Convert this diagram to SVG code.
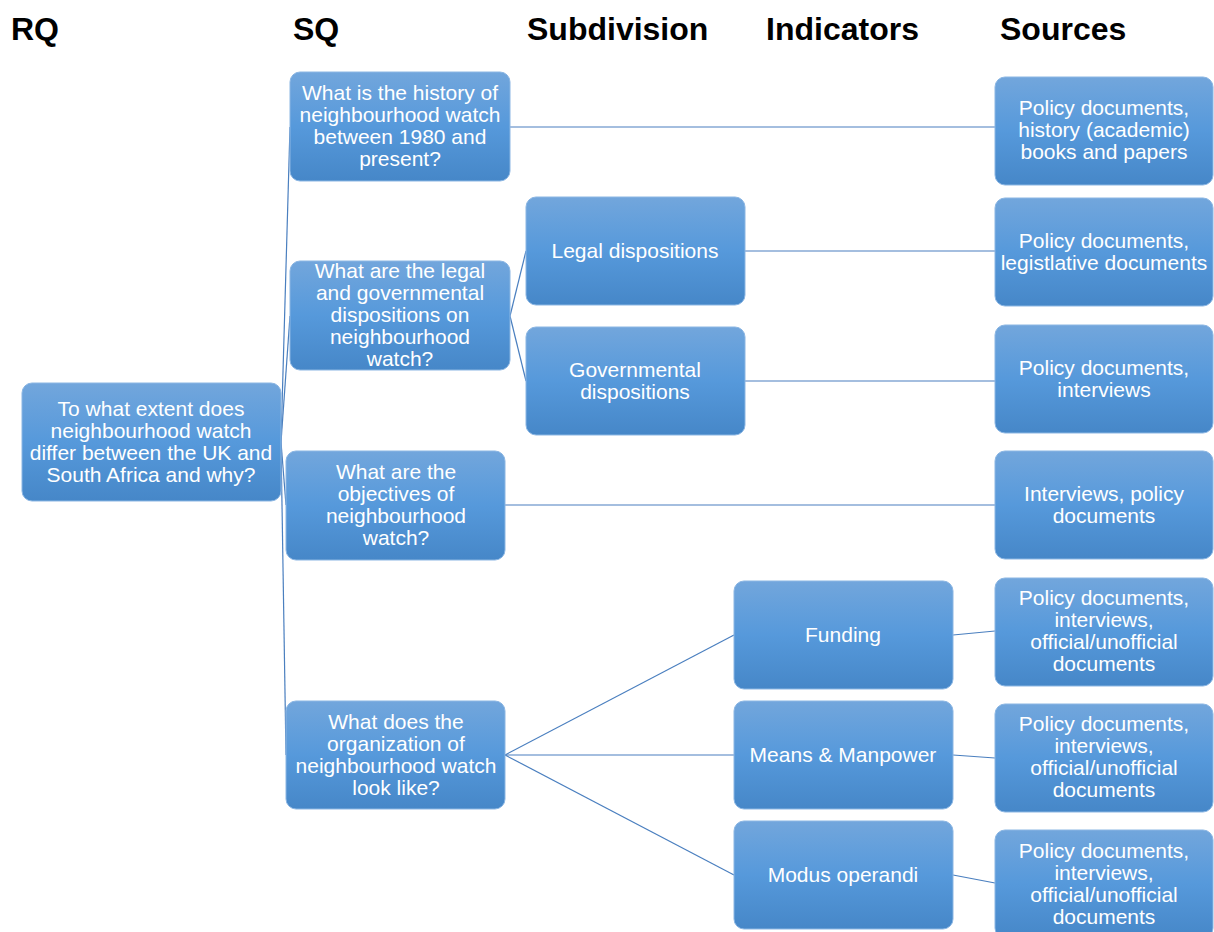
<svg xmlns="http://www.w3.org/2000/svg" width="1214" height="932" viewBox="0 0 1214 932">
<defs>
<linearGradient id="g" x1="0" y1="0" x2="0" y2="1">
<stop offset="0" stop-color="#72a6dc"/>
<stop offset="0.5" stop-color="#5699db"/>
<stop offset="1" stop-color="#4687c8"/>
</linearGradient>
<style>
.b{fill:url(#g);stroke:#8bb6e3;stroke-width:1}
.t{font-family:"Liberation Sans",Arial,sans-serif;font-size:21px;fill:#fff;text-anchor:middle}
.h{font-family:"Liberation Sans",Arial,sans-serif;font-size:32px;font-weight:bold;fill:#000}
.c line{stroke:#4a7fbf;stroke-width:1.2}
</style>
</defs>
<rect width="1214" height="932" fill="#fff"/>
<g id="headers">
<text class="h" x="11" y="40">RQ</text>
<text class="h" x="293" y="40">SQ</text>
<text class="h" x="527" y="40">Subdivision</text>
<text class="h" x="766" y="40">Indicators</text>
<text class="h" x="1000" y="40">Sources</text>
</g>
<g class="c" id="connectors">
<line x1="281" y1="442" x2="290" y2="127"/>
<line x1="281" y1="442" x2="290" y2="316"/>
<line x1="281" y1="442" x2="286" y2="505"/>
<line x1="281" y1="442" x2="286" y2="755"/>
<line x1="510" y1="127" x2="995" y2="127"/>
<line x1="510" y1="316" x2="526" y2="251"/>
<line x1="510" y1="316" x2="526" y2="381"/>
<line x1="745" y1="251" x2="995" y2="251"/>
<line x1="745" y1="381" x2="995" y2="381"/>
<line x1="505" y1="505" x2="995" y2="505"/>
<line x1="505" y1="755" x2="734" y2="635"/>
<line x1="505" y1="755" x2="734" y2="755"/>
<line x1="505" y1="755" x2="734" y2="875"/>
<line x1="953" y1="635" x2="995" y2="631"/>
<line x1="953" y1="755" x2="995" y2="758"/>
<line x1="953" y1="875" x2="995" y2="883"/>
</g>
<g id="rq"><rect class="b" x="22" y="383" width="259" height="118" rx="10"/>
<text class="t"><tspan x="151" y="416">To what extent does</tspan><tspan x="151" y="438">neighbourhood watch</tspan><tspan x="151" y="460">differ between the UK and</tspan><tspan x="151" y="482">South Africa and why?</tspan></text></g>
<g id="sq1"><rect class="b" x="290" y="72" width="220" height="109" rx="10"/>
<text class="t"><tspan x="400" y="100">What is the history of</tspan><tspan x="400" y="122">neighbourhood watch</tspan><tspan x="400" y="144">between 1980 and</tspan><tspan x="400" y="166">present?</tspan></text></g>
<g id="sq2"><rect class="b" x="290" y="261" width="220" height="109" rx="10"/>
<text class="t"><tspan x="400" y="278">What are the legal</tspan><tspan x="400" y="300">and governmental</tspan><tspan x="400" y="322">dispositions on</tspan><tspan x="400" y="344">neighbourhood</tspan><tspan x="400" y="366">watch?</tspan></text></g>
<g id="sq3"><rect class="b" x="286" y="451" width="219" height="109" rx="10"/>
<text class="t"><tspan x="396" y="479">What are the</tspan><tspan x="396" y="501">objectives of</tspan><tspan x="396" y="523">neighbourhood</tspan><tspan x="396" y="545">watch?</tspan></text></g>
<g id="sq4"><rect class="b" x="286" y="701" width="219" height="108" rx="10"/>
<text class="t"><tspan x="396" y="729">What does the</tspan><tspan x="396" y="751">organization of</tspan><tspan x="396" y="773">neighbourhood watch</tspan><tspan x="396" y="795">look like?</tspan></text></g>
<g id="legal"><rect class="b" x="526" y="197" width="219" height="108" rx="10"/>
<text class="t" x="635" y="258">Legal dispositions</text></g>
<g id="gov"><rect class="b" x="526" y="327" width="219" height="108" rx="10"/>
<text class="t"><tspan x="635" y="377">Governmental</tspan><tspan x="635" y="399">dispositions</tspan></text></g>
<g id="funding"><rect class="b" x="734" y="581" width="219" height="108" rx="10"/>
<text class="t" x="843" y="642">Funding</text></g>
<g id="means"><rect class="b" x="734" y="701" width="219" height="108" rx="10"/>
<text class="t" x="843" y="762">Means &amp; Manpower</text></g>
<g id="modus"><rect class="b" x="734" y="821" width="219" height="108" rx="10"/>
<text class="t" x="843" y="882">Modus operandi</text></g>
<g id="src1"><rect class="b" x="995" y="77" width="218" height="108" rx="10"/>
<text class="t"><tspan x="1104" y="115">Policy documents,</tspan><tspan x="1104" y="137">history (academic)</tspan><tspan x="1104" y="159">books and papers</tspan></text></g>
<g id="src2"><rect class="b" x="995" y="198" width="218" height="108" rx="10"/>
<text class="t"><tspan x="1104" y="248">Policy documents,</tspan><tspan x="1104" y="270">legistlative documents</tspan></text></g>
<g id="src3"><rect class="b" x="995" y="325" width="218" height="108" rx="10"/>
<text class="t"><tspan x="1104" y="375">Policy documents,</tspan><tspan x="1104" y="397">interviews</tspan></text></g>
<g id="src4"><rect class="b" x="995" y="451" width="218" height="108" rx="10"/>
<text class="t"><tspan x="1104" y="501">Interviews, policy</tspan><tspan x="1104" y="523">documents</tspan></text></g>
<g id="src5"><rect class="b" x="995" y="578" width="218" height="108" rx="10"/>
<text class="t"><tspan x="1104" y="605">Policy documents,</tspan><tspan x="1104" y="627">interviews,</tspan><tspan x="1104" y="649">official/unofficial</tspan><tspan x="1104" y="671">documents</tspan></text></g>
<g id="src6"><rect class="b" x="995" y="704" width="218" height="108" rx="10"/>
<text class="t"><tspan x="1104" y="731">Policy documents,</tspan><tspan x="1104" y="753">interviews,</tspan><tspan x="1104" y="775">official/unofficial</tspan><tspan x="1104" y="797">documents</tspan></text></g>
<g id="src7"><rect class="b" x="995" y="830" width="218" height="108" rx="10"/>
<text class="t"><tspan x="1104" y="858">Policy documents,</tspan><tspan x="1104" y="880">interviews,</tspan><tspan x="1104" y="902">official/unofficial</tspan><tspan x="1104" y="924">documents</tspan></text></g>
</svg>
